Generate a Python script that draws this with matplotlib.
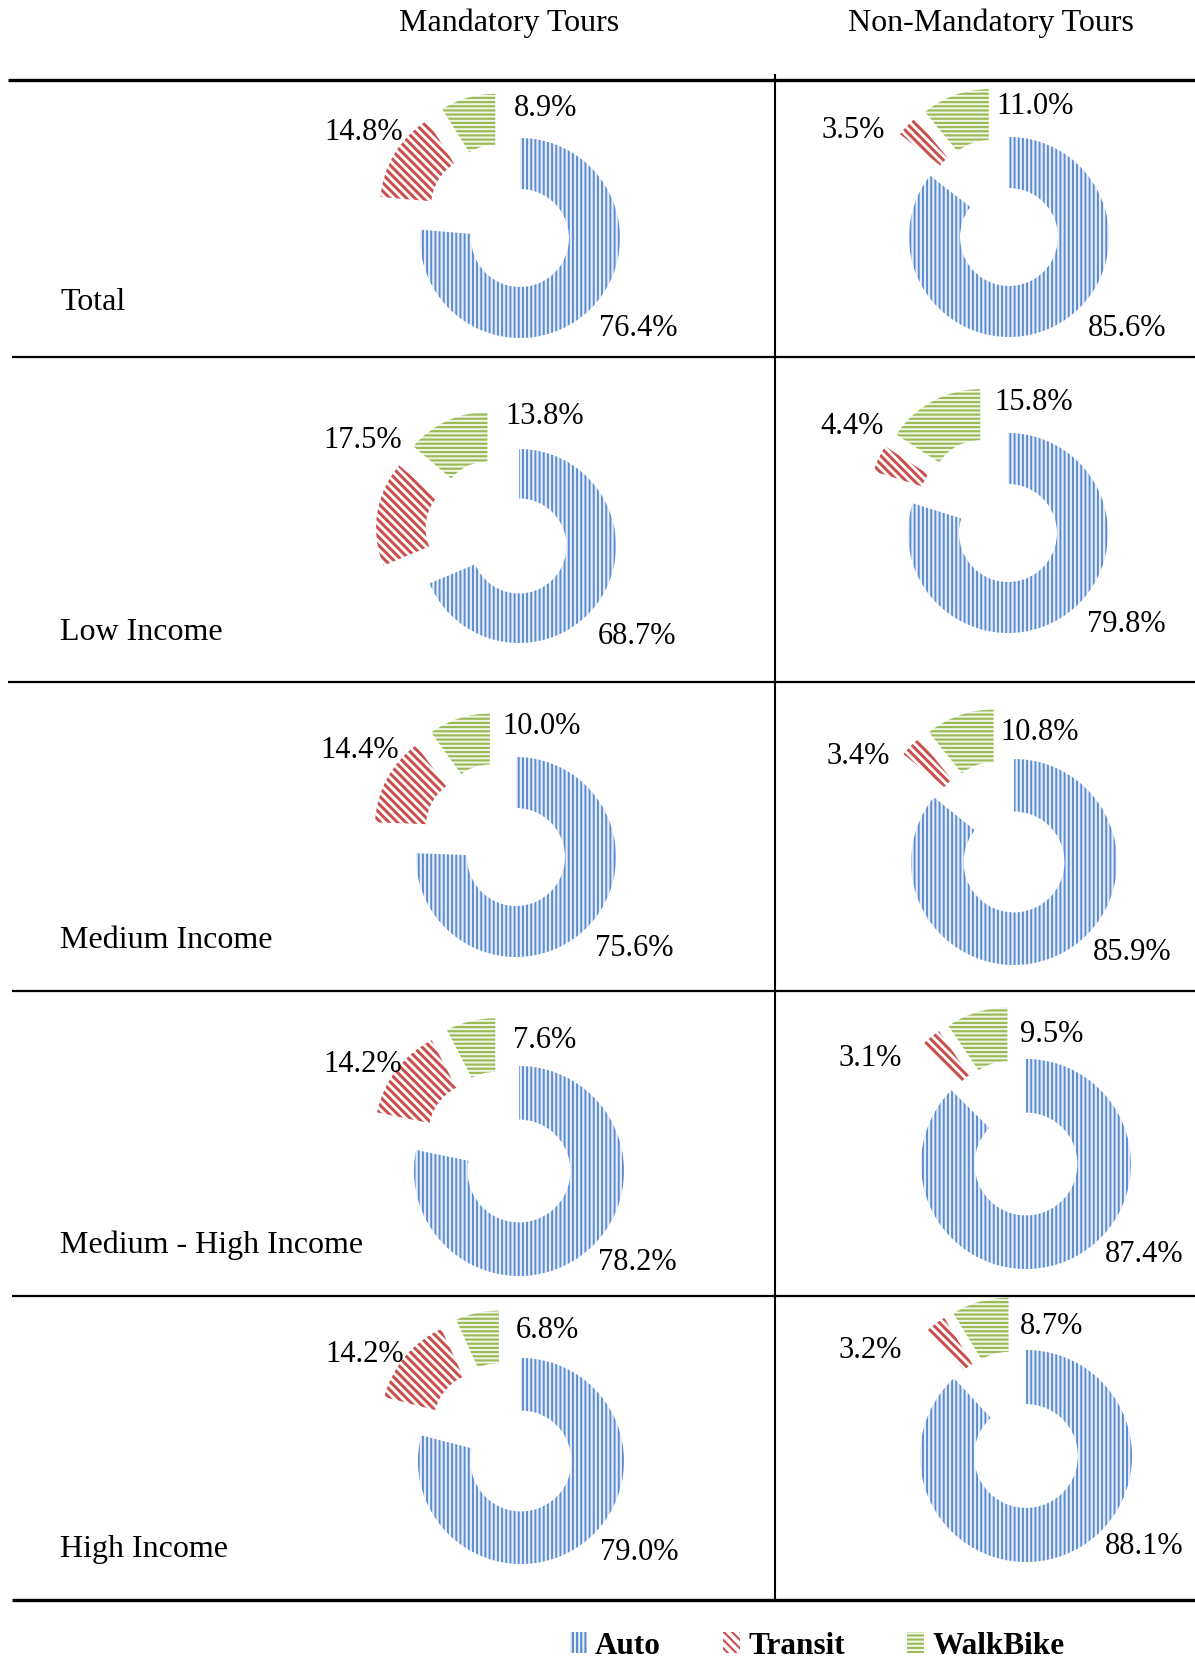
"""
Tour mode shares by income group, drawn as a table of exploded doughnuts.
"""

import numpy as np
import matplotlib
matplotlib.use('Agg')
from matplotlib import pyplot as plt
from matplotlib.patches import Patch

MODES = ['Auto', 'Transit', 'WalkBike']
GROUPS = ['Total', 'Low Income', 'Medium Income', 'Medium - High Income', 'High Income']
COLUMNS = ['Mandatory Tours', 'Non-Mandatory Tours']

mandatory_auto = [76.4, 68.7, 75.6, 78.2, 79.0]
mandatory_transit = [14.8, 17.5, 14.4, 14.2, 14.2]
mandatory_walkbike = [8.9, 13.8, 10.0, 7.6, 6.8]

non_mandatory_auto = [85.6, 79.8, 85.9, 87.4, 88.1]
non_mandatory_transit = [3.5, 4.4, 3.4, 3.1, 3.2]
non_mandatory_walkbike = [11.0, 15.8, 10.8, 9.5, 8.7]

# layout, in pixels of the saved image (y grows downwards)
W, H = 1195, 1662
AUTO_CENTERS = [
    [(520, 238), (519, 546), (516, 857), (519, 1171), (521, 1461)],
    [(1009, 237), (1008, 533), (1014, 862), (1026, 1164), (1026, 1456)],
]
RADII = [
    [100, 97, 100, 105, 103],
    [100, 100, 103, 105, 106],
]
EXPLODE = 0.26
RING = 0.51
LABEL_OFFSETS = [(118, 91), (-156, -106), (26, -130)]
ROW_LINES = [80, 357, 682, 991, 1296, 1600]
ROW_LINE_START = [8, 12, 8, 12, 12, 12]
ROW_LABEL_Y = [302, 632, 941, 1245, 1550]
COL_LINE_X = 775

SERIF = 'Liberation Serif'
FACES = ['#e6edf8', 'white', '#f3f7ea']
HATCH_COLORS = ['#5b8cd2', '#c9504c', '#9bbb59']
HATCHES = ['||||', '\\\\\\\\', '----']
HATCH_WIDTHS = [1.4, 2.2, 1.6]

plt.rcParams['hatch.linewidth'] = 1.5

fig = plt.figure(figsize=(W / 100, H / 100), dpi=100)
ax = fig.add_axes([0, 0, 1, 1])

tables = [
    [mandatory_auto, mandatory_transit, mandatory_walkbike],
    [non_mandatory_auto, non_mandatory_transit, non_mandatory_walkbike],
]

for col, series in enumerate(tables):
    for row in range(len(GROUPS)):
        shares = [s[row] for s in series]
        radius = RADII[col][row]
        ax_x, ax_y = AUTO_CENTERS[col][row]
        shift = EXPLODE * radius
        # the auto wedge is pushed out along its bisector; work back to the ring centre
        frac = shares[0] / sum(shares)
        beta = np.deg2rad(90 - 180 * frac)
        cx = ax_x - shift * np.cos(beta)
        cy = ax_y + shift * np.sin(beta)
        # y axis is flipped, so screen-clockwise from 12 o'clock is startangle 270, counterclock
        wedges, _ = ax.pie(
            shares,
            center=(cx, cy),
            radius=radius,
            startangle=270,
            counterclock=True,
            explode=[shift] * 3,
            frame=True,
            wedgeprops=dict(width=RING * radius, linewidth=0),
        )
        for i, w in enumerate(wedges):
            w.set_facecolor(FACES[i])
            w.set_edgecolor(HATCH_COLORS[i])
            w.set_hatch(HATCHES[i])
            if hasattr(w, 'set_hatch_linewidth'):
                w.set_hatch_linewidth(HATCH_WIDTHS[i])
        for i, value in enumerate(shares):
            dx, dy = LABEL_OFFSETS[i]
            ax.text(ax_x + dx, ax_y + dy, '{0:.1f}%'.format(value),
                    ha='center', va='center', fontsize=22, family=SERIF)

# table rules
for y, x0 in zip(ROW_LINES, ROW_LINE_START):
    lw = 2.4 if y in (ROW_LINES[0], ROW_LINES[-1]) else 1.6
    ax.plot([x0, W], [y, y], color='black', lw=lw, solid_capstyle='butt')
ax.plot([COL_LINE_X, COL_LINE_X], [75, ROW_LINES[-1]], color='black', lw=1.5)

for name, y in zip(GROUPS, ROW_LABEL_Y):
    ax.text(60, y, name, ha='left', va='center', fontsize=23, family=SERIF)

ax.text(509, 23, COLUMNS[0], ha='center', va='center', fontsize=23, family=SERIF)
ax.text(991, 23, COLUMNS[1], ha='center', va='center', fontsize=23, family=SERIF)

ax.set_xlim(0, W)
ax.set_ylim(H, 0)
ax.axis('off')

handles = []
for i, mode in enumerate(MODES):
    p = Patch(facecolor=FACES[i], edgecolor=HATCH_COLORS[i], hatch=HATCHES[i], lw=0, label=mode)
    if hasattr(p, 'set_hatch_linewidth'):
        p.set_hatch_linewidth(HATCH_WIDTHS[i])
    handles.append(p)
fig.legend(
    handles=handles,
    loc='center',
    bbox_to_anchor=(817 / W, 1 - 1646 / H),
    ncol=3,
    frameon=False,
    prop=dict(family=SERIF, weight='bold', size=22.5),
    handlelength=0.55,
    handleheight=0.65,
    handletextpad=0.25,
    columnspacing=2.0,
)

fig.savefig('out.png', dpi=100)
